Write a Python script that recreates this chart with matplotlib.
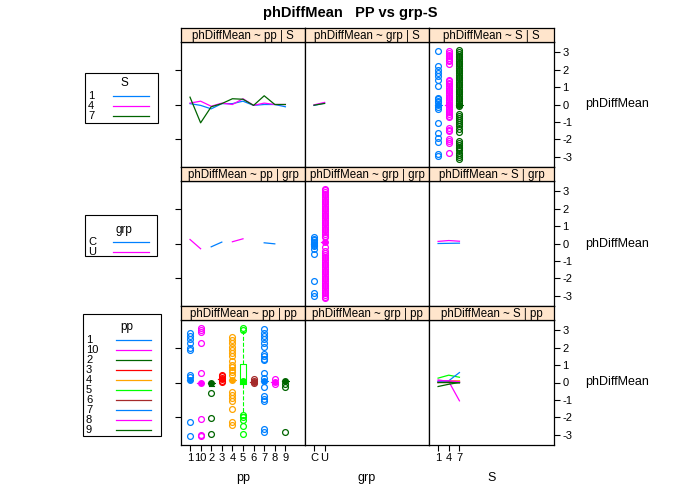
import numpy as np
import matplotlib.pyplot as plt
from matplotlib.patches import Rectangle
from matplotlib.lines import Line2D

plt.rcParams['font.family'] = ['Liberation Sans', 'DejaVu Sans']
plt.rcParams['axes.unicode_minus'] = False

W, H = 700, 500

# ---- levels ----
pp_levels = ["1", "10", "2", "3", "4", "5", "6", "7", "8", "9"]
grp_levels = ["C", "U"]
S_levels = ["1", "4", "7"]

# lattice superpose palette
pal = ["#0080ff", "#ff00ff", "darkgreen", "#ff0000", "orange", "#00ff00", "brown"]

# ---- phDiffMean ~ pp | S : mean line per S ----
pp_line_S1 = [0.05, -0.05, -0.25, 0.05, 0.05, 0.19, -0.05, 0.0, 0.0, -0.13]
pp_line_S4 = [0.08, 0.19, -0.10, 0.08, 0.0, 0.33, -0.05, 0.08, 0.0, 0.0]
pp_line_S7 = [0.42, -1.05, -0.13, 0.05, 0.33, 0.30, -0.05, 0.50, 0.0, 0.0]

# ---- phDiffMean ~ grp | S ----
grp_line_S1 = [-0.05, 0.08]
grp_line_S4 = [-0.02, 0.12]
grp_line_S7 = [-0.04, 0.06]

# ---- phDiffMean ~ S | S : median + outliers per S ----
S_med = [0.0, 0.0, 0.0]
S_out_1 = [3.09, 2.19, 2.0, 1.81, 1.66, 1.43, 1.05, 0.38, 0.29, 0.2, 0.13, -0.13,
           -0.25, -1.05, -1.62, -1.9, -2.15, -2.86, -2.95]
S_out_4 = [3.05, 2.95, 2.86, 2.75, 2.67, 2.55, 2.47, 2.34, 1.43, 1.35, 1.25, 1.15,
           1.05, 0.95, 0.85, 0.75, 0.65, 0.55, 0.45, 0.35, 0.25, 0.15, 0.05, -0.05,
           -0.15, -0.25, -0.35, -0.45, -0.55, -0.65, -0.74, -1.33, -1.45, -1.52,
           -2.0, -2.1, -2.19, -2.8]
S_out_7 = [3.12, 3.02, 2.9, 2.8, 2.7, 2.6, 2.5, 2.4, 2.3, 2.2, 2.1, 2.0, 1.9, 1.8,
           1.7, 1.6, 1.5, 1.4, 1.3, 1.2, 1.1, 1.0, 0.9, 0.8, 0.7, 0.6, 0.5, 0.4,
           0.3, 0.2, 0.1, -0.1, -0.57, -0.67, -0.78, -0.88, -1.0, -1.12, -1.25,
           -1.4, -1.6, -2.08, -2.2, -2.3, -2.42, -2.52, -2.62, -2.75, -2.88,
           -3.0, -3.12]

# ---- phDiffMean ~ pp | grp ----
nan = np.nan
pp_line_C = [nan, nan, -0.19, 0.08, nan, nan, nan, 0.04, -0.02, nan]
pp_line_U = [0.23, -0.30, nan, nan, 0.10, 0.27, nan, nan, nan, nan]

# ---- phDiffMean ~ grp | grp ----
grp_med = [0.0, 0.1]
grp_out_C = [0.35, 0.27, 0.18, 0.1, 0.03, -0.06, -0.15, -0.3, -0.6, -2.15, -2.85, -3.0]
grp_out_U = [3.15, 3.05, 2.95, 2.85, 2.75, 2.65, 2.55, 2.45, 2.35, 2.25, 2.15, 2.05,
             1.95, 1.85, 1.75, 1.65, 1.55, 1.45, 1.35, 1.25, 1.15, 1.05, 0.95, 0.85,
             0.75, 0.65, 0.55, 0.45, 0.35, -0.2, -0.45, -0.55, -0.65, -0.75, -0.85,
             -0.95, -1.05, -1.15, -1.25, -1.35, -1.45, -1.55, -1.65, -1.75, -1.85,
             -1.95, -2.05, -2.15, -2.25, -2.35, -2.45, -2.55, -2.65, -2.75, -2.85,
             -2.95, -3.05, -3.15]

# ---- phDiffMean ~ S | grp ----
S_line_C = [0.0, 0.01, 0.02]
S_line_U = [0.12, 0.17, 0.13]

# ---- phDiffMean ~ pp | pp : box stats + outliers ----
pp_med = [0.13, 0.0, 0.0, 0.2, 0.13, 0.1, 0.05, 0.1, 0.04, 0.1]
pp_q1 = [0.13, 0.0, 0.0, 0.2, 0.13, -0.1, 0.05, 0.1, 0.04, 0.1]
pp_q3 = [0.13, 0.0, 0.0, 0.2, 0.13, 1.05, 0.05, 0.1, 0.04, 0.1]
pp_lo = [0.13, 0.0, -0.2, 0.2, 0.13, -1.8, 0.05, 0.1, 0.04, 0.1]
pp_hi = [0.13, 0.0, 0.0, 0.2, 0.13, 2.9, 0.05, 0.1, 0.04, 0.1]
pp_out = [
    [2.86, 2.67, 2.48, 2.29, 2.0, 1.87, 0.42, 0.29, -2.29, -3.05],
    [3.14, 3.0, 2.88, 2.25, 0.53, -2.1, -3.0, -3.09],
    [-0.61, -2.06, -2.95],
    [0.42, 0.35, 0.27, 0.1, 0.04],
    [2.63, 2.44, 2.25, 2.06, 1.87, 1.68, 1.49, 1.24, 0.99, 0.86, 0.72, 0.61,
     0.42, -0.53, -0.72, -0.91, -1.05, -1.49, -2.25, -2.44],
    [3.14, 3.0, -1.87, -2.0, -2.13, -2.51, -2.95],
    [0.19, 0.1, 0.0],
    [3.09, 2.86, 2.67, 2.48, 2.29, 2.06, 1.62, 1.49, 1.37, 1.30, 0.53, 0.23,
     -0.23, -0.76, -0.95, -1.05, -2.67, -2.82],
    [0.19, -0.1],
    [-0.1, -0.23, -2.82],
]

# ---- phDiffMean ~ S | pp : line per pp ----
S_line_pp = [
    [0.05, 0.02, 0.0],
    [0.15, 0.06, -1.05],
    [-0.23, -0.1, 0.0],
    [0.0, 0.0, 0.05],
    [0.0, 0.1, 0.1],
    [0.25, 0.42, 0.3],
    [0.0, 0.05, 0.0],
    [0.05, 0.1, 0.57],
    [0.1, 0.1, 0.05],
    [0.0, 0.0, -0.02],
]

pp_cols = [pal[i % 7] for i in range(len(pp_levels))]
grp_cols = pal[:2]
S_cols = pal[:3]


def fig_box(x0, y0, x1, y1):
    # pixel box (top-left origin) -> figure rect
    return [x0 / W, 1 - y1 / H, (x1 - x0) / W, (y1 - y0) / H]


def draw_bw(ax, pos, col, med, q1, q3, lo, hi, outs):
    stats = [dict(med=med, q1=q1, q3=q3, whislo=lo, whishi=hi, fliers=outs)]
    ax.bxp(stats, positions=[pos], widths=0.65, capwidths=0.45,
           boxprops=dict(color=col, lw=0.8),
           whiskerprops=dict(color=col, lw=0.8, ls="--"),
           capprops=dict(color=col, lw=0.8),
           medianprops=dict(lw=0),
           flierprops=dict(marker="o", mfc="none", mec=col, ms=4.2, mew=0.9,
                           ls="none"),
           manage_ticks=False)
    ax.plot([pos], [med], "o", color=col, ms=4.0, zorder=5)


fig = plt.figure(figsize=(7, 5), dpi=100)

col_edges = [181, 305, 429, 554]
row_tops = [28, 167, 306]
strip_h = 14
plot_h = 125
xnames = ["pp", "grp", "S"]
cond_names = ["S", "grp", "pp"]
levels = [pp_levels, grp_levels, S_levels]
ylim = (-3.58, 3.58)
xlim = (0.15, 11.85)

axes = {}
for r in range(3):
    for c in range(3):
        top = row_tops[r] + strip_h
        ax = fig.add_axes(fig_box(col_edges[c], top, col_edges[c + 1], top + plot_h))
        ax.set_xlim(*xlim)
        ax.set_ylim(*ylim)
        for s in ax.spines.values():
            s.set_linewidth(0.9)
        ax.tick_params(direction="out", length=4, width=0.8, labelsize=8,
                       left=False, labelleft=False, bottom=False, labelbottom=False)
        if c == 0:
            ax.set_yticks([-2, 0, 2])
            ax.tick_params(left=True)
        elif c == 2:
            ax.set_yticks([-3, -2, -1, 0, 1, 2, 3])
            ax.yaxis.tick_right()
            ax.tick_params(right=True, labelright=True, pad=2)
        else:
            ax.set_yticks([])
        if r == 2:
            n = len(levels[c])
            ax.set_xticks(np.arange(1, n + 1))
            ax.set_xticklabels(levels[c])
            ax.tick_params(bottom=True, labelbottom=True, pad=2)
        else:
            ax.set_xticks([])
        # strip
        sax = fig.add_axes(fig_box(col_edges[c], row_tops[r], col_edges[c + 1], top))
        sax.set_facecolor("#ffe5cc")
        sax.set_xticks([])
        sax.set_yticks([])
        for s in sax.spines.values():
            s.set_linewidth(0.9)
        sax.text(0.5, 0.45, "phDiffMean ~ %s | %s" % (xnames[c], cond_names[r]),
                 ha="center", va="center", fontsize=8.3, transform=sax.transAxes)
        axes[(r, c)] = ax

# row 1 : conditioned on S
xp = np.arange(1, len(pp_levels) + 1)
for vals, col in zip([pp_line_S1, pp_line_S4, pp_line_S7], S_cols):
    axes[(0, 0)].plot(xp, vals, color=col, lw=0.9)
xg = np.arange(1, len(grp_levels) + 1)
for vals, col in zip([grp_line_S1, grp_line_S4, grp_line_S7], S_cols):
    axes[(0, 1)].plot(xg, vals, color=col, lw=0.9)
for i, outs in enumerate([S_out_1, S_out_4, S_out_7]):
    m = S_med[i]
    draw_bw(axes[(0, 2)], i + 1, S_cols[i], m, m, m, m, m, outs)

# row 2 : conditioned on grp
for vals, col in zip([pp_line_C, pp_line_U], grp_cols):
    axes[(1, 0)].plot(xp, vals, color=col, lw=0.9)
for i, outs in enumerate([grp_out_C, grp_out_U]):
    m = grp_med[i]
    draw_bw(axes[(1, 1)], i + 1, grp_cols[i], m, m, m, m, m, outs)
xs = np.arange(1, len(S_levels) + 1)
for vals, col in zip([S_line_C, S_line_U], grp_cols):
    axes[(1, 2)].plot(xs, vals, color=col, lw=0.9)

# row 3 : conditioned on pp
for i in range(len(pp_levels)):
    draw_bw(axes[(2, 0)], i + 1, pp_cols[i], pp_med[i], pp_q1[i], pp_q3[i],
            pp_lo[i], pp_hi[i], pp_out[i])
for vals, col in zip(S_line_pp, pp_cols):
    axes[(2, 2)].plot(xs, vals, color=col, lw=0.9)

# axis labels
for c, name in enumerate(xnames):
    fig.text((col_edges[c] + col_edges[c + 1]) / 2 / W, 1 - 478 / H, name,
             ha="center", va="center", fontsize=9)
for r in range(3):
    yc = row_tops[r] + strip_h + plot_h / 2
    fig.text(585 / W, 1 - yc / H, "phDiffMean", ha="left", va="center", fontsize=9)

fig.text(0.5, 1 - 13 / H, "phDiffMean   PP vs grp-S", ha="center", va="center",
         fontsize=10.5, fontweight="bold")


# legends
def draw_key(box, title, title_y, labels, colors, y0, step, tx, lx0, lx1):
    x0, y0b, x1, y1 = box
    fig.add_artist(Rectangle((x0 / W, 1 - y1 / H), (x1 - x0) / W, (y1 - y0b) / H,
                             transform=fig.transFigure, fill=False, lw=0.8, ec="black"))
    fig.text((lx0 + lx1) / 2 / W - 0.01, 1 - title_y / H, title, ha="center",
             va="center", fontsize=8.5)
    for i, (lab, col) in enumerate(zip(labels, colors)):
        yy = 1 - (y0 + i * step) / H
        fig.text(tx / W, yy, lab, ha="left", va="center", fontsize=8)
        fig.add_artist(Line2D([lx0 / W, lx1 / W], [yy, yy], color=col, lw=0.9,
                              transform=fig.transFigure))


draw_key((85, 73, 158, 123), "S", 83, S_levels, S_cols, 96, 10, 88, 113, 149)
draw_key((85, 215, 157, 256), "grp", 230, grp_levels, grp_cols, 242, 10, 88, 113, 149)
draw_key((83, 314, 161, 436), "pp", 327, pp_levels, pp_cols, 340, 10, 86, 116, 151)

fig.savefig("out.png", dpi=100)
